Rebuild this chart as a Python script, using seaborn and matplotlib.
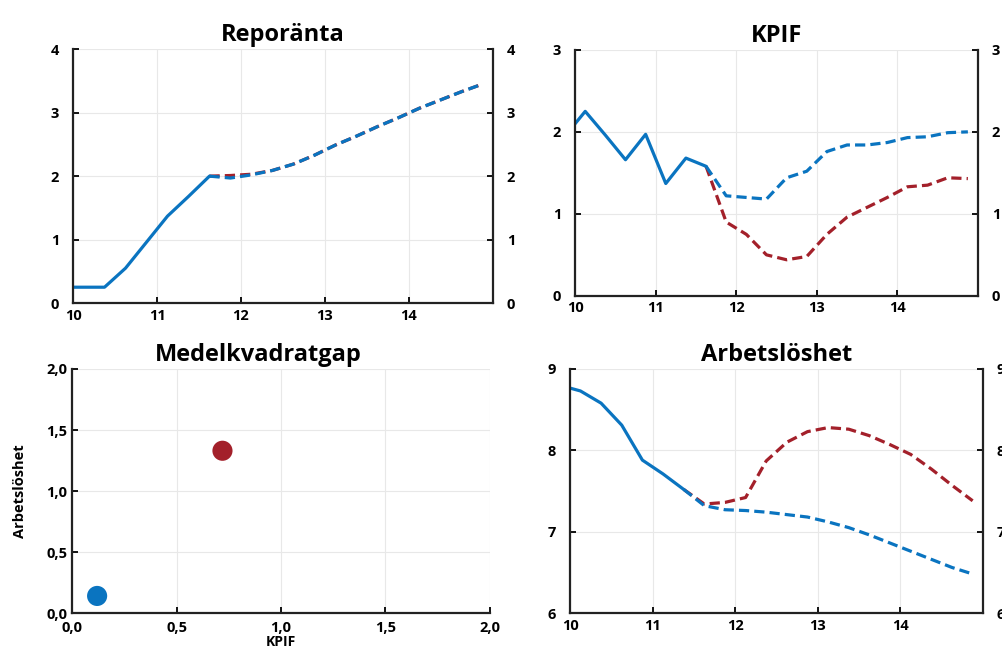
import pandas as pd
import seaborn as sns
import matplotlib.pyplot as plt

# quarter mid-points (year 2000 + x)
hist_x = [9.875, 10.125, 10.375, 10.625, 10.875, 11.125, 11.375, 11.625]
fc_x = [11.625, 11.875, 12.125, 12.375, 12.625, 12.875, 13.125, 13.375,
        13.625, 13.875, 14.125, 14.375, 14.625, 14.875]

repo_hist = [0.25, 0.25, 0.25, 0.55, 0.96, 1.37, 1.68, 2.0]
repo_blue = [2.0, 1.97, 2.02, 2.09, 2.19, 2.33, 2.49, 2.63, 2.78, 2.92, 3.07, 3.2, 3.33, 3.45]
repo_red = [2.0, 2.01, 2.03, 2.09, 2.19, 2.33, 2.49, 2.63, 2.78, 2.92, 3.07, 3.2, 3.33, 3.45]

kpif_hist = [1.95, 2.25, 1.96, 1.66, 1.97, 1.37, 1.68, 1.58]
kpif_blue = [1.58, 1.22, 1.2, 1.18, 1.44, 1.52, 1.76, 1.84, 1.84, 1.87, 1.93, 1.94, 1.99, 2.0]
kpif_red = [1.58, 0.9, 0.75, 0.5, 0.44, 0.48, 0.75, 0.96, 1.08, 1.2, 1.33, 1.35, 1.44, 1.43]

# unemployment: outcome one quarter shorter
ue_hist_x = [9.875, 10.125, 10.375, 10.625, 10.875, 11.125, 11.375]
ue_hist = [8.8, 8.73, 8.58, 8.31, 7.88, 7.71, 7.52]
ue_blue_x = [11.375] + fc_x
ue_blue = [7.52, 7.32, 7.27, 7.26, 7.24, 7.21, 7.18, 7.12, 7.05, 6.96, 6.86, 6.76, 6.66, 6.56, 6.48]
ue_red_x = [11.375] + fc_x
ue_red = [7.52, 7.34, 7.36, 7.42, 7.87, 8.1, 8.23, 8.28, 8.26, 8.18, 8.07, 7.95, 7.77, 7.57, 7.38]

# mean squared gaps
gap_names = ["Blå", "Röd"]
gap_kpif = [0.12, 0.72]
gap_ue = [0.14, 1.33]

BLUE = "#0a74c0"
RED = "#a3202a"

sns.set_theme(style="white")
plt.rcParams["font.family"] = ["Open Sans", "DejaVu Sans"]
plt.rcParams["font.weight"] = "bold"
plt.rcParams["axes.titleweight"] = "bold"
plt.rcParams["axes.labelweight"] = "bold"
plt.rcParams["text.color"] = "black"
plt.rcParams["axes.labelcolor"] = "black"
plt.rcParams["xtick.color"] = "black"
plt.rcParams["ytick.color"] = "black"

fig = plt.figure(figsize=(10.02, 6.56), dpi=100)
ax_repo = fig.add_axes([0.0729, 0.538, 0.419, 0.387])
ax_kpif = fig.add_axes([0.574, 0.549, 0.402, 0.375])
ax_gap = fig.add_axes([0.0719, 0.0655, 0.417, 0.372])
ax_ue = fig.add_axes([0.569, 0.0655, 0.412, 0.372])

DASH = (3.2, 1.6)
LW = 2.3


def time_panel(ax, title, hx, hy, bx, by, rx, ry, ylim, yticks):
    sns.lineplot(x=rx, y=ry, ax=ax, color=RED, lw=LW)
    ax.lines[-1].set_dashes(DASH)
    sns.lineplot(x=hx, y=hy, ax=ax, color=BLUE, lw=LW)
    sns.lineplot(x=bx, y=by, ax=ax, color=BLUE, lw=LW)
    ax.lines[-1].set_dashes(DASH)
    ax.set_xlim(10, 15)
    ax.set_ylim(*ylim)
    ax.set_xticks([10, 11, 12, 13, 14])
    ax.set_yticks(yticks)
    ax.set_title(title, fontsize=17, pad=6)
    ax.grid(True, color="#e8e8e8", lw=0.8)
    ax.tick_params(axis="both", labelsize=10.5, direction="in", length=4,
                   width=1.3, right=True, labelright=True,
                   left=True, bottom=True, pad=10)
    ax.tick_params(axis="x", pad=4)
    for s in ["left", "bottom", "right"]:
        ax.spines[s].set_color("#222222")
        ax.spines[s].set_linewidth(1.6)
    ax.spines["top"].set_visible(False)


time_panel(ax_repo, "Reporänta", hist_x, repo_hist, fc_x, repo_blue, fc_x, repo_red,
           (0, 4), [0, 1, 2, 3, 4])
time_panel(ax_kpif, "KPIF", hist_x, kpif_hist, fc_x, kpif_blue, fc_x, kpif_red,
           (0, 3), [0, 1, 2, 3])
time_panel(ax_ue, "Arbetslöshet", ue_hist_x, ue_hist, ue_blue_x, ue_blue, ue_red_x, ue_red,
           (6, 9), [6, 7, 8, 9])

gap = pd.DataFrame({"namn": gap_names, "KPIF": gap_kpif, "Arbetslöshet": gap_ue})
sns.scatterplot(data=gap, x="KPIF", y="Arbetslöshet", hue="namn",
                palette=[BLUE, RED], s=210, edgecolor="none", legend=False, ax=ax_gap)
ax_gap.set_xlim(0, 2)
ax_gap.set_ylim(0, 2)
ticks = [0, 0.5, 1.0, 1.5, 2.0]
ax_gap.set_xticks(ticks)
ax_gap.set_yticks(ticks)
ax_gap.set_xticklabels([f"{t:.1f}".replace(".", ",") for t in ticks])
ax_gap.set_yticklabels([f"{t:.1f}".replace(".", ",") for t in ticks])
ax_gap.set_title("Medelkvadratgap", fontsize=17, pad=6, x=0.445)
ax_gap.set_xlabel("KPIF", fontsize=10, labelpad=0)
ax_gap.set_ylabel("Arbetslöshet", fontsize=10.5, labelpad=14)
ax_gap.grid(True, color="#e8e8e8", lw=0.8)
ax_gap.tick_params(axis="both", labelsize=10.5, direction="in", length=4,
                   width=1.3, left=True, bottom=True)
ax_gap.tick_params(axis="x", pad=6)
for s in ["left", "bottom"]:
    ax_gap.spines[s].set_color("#222222")
    ax_gap.spines[s].set_linewidth(1.6)
for s in ["top", "right"]:
    ax_gap.spines[s].set_visible(False)

fig.savefig("out.png", dpi=100)
